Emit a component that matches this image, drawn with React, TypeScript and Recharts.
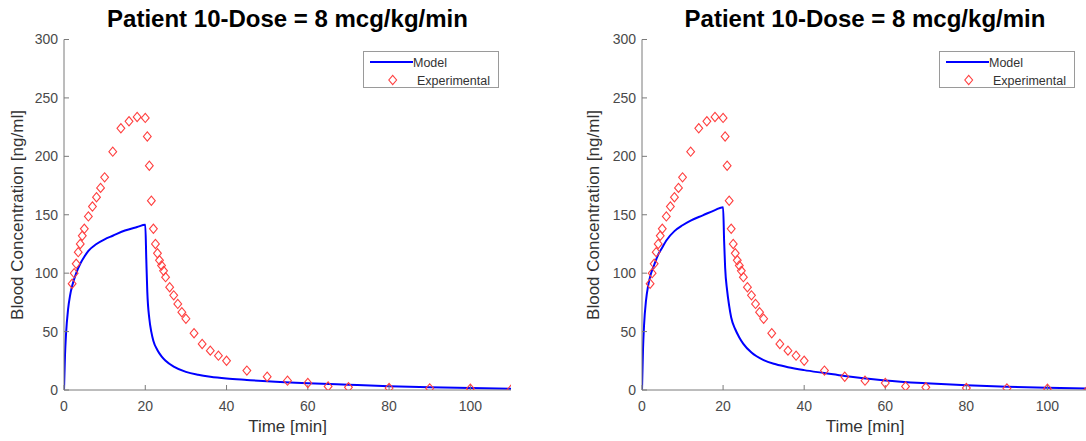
import React from "react";
import { ComposedChart, Line, Scatter, XAxis, YAxis, Legend } from "recharts";

// experimental samples (same in both panels)
const expTime = [2, 2.5, 3, 3.5, 4, 4.5, 5, 6, 7, 8, 9, 10, 12, 14, 16, 18, 20, 20.5, 21, 21.5, 22, 22.5, 23, 23.5, 24, 24.5, 25, 26, 27, 28, 29, 30, 32, 34, 36, 38, 40, 45, 50, 55, 60, 65, 70, 80, 90, 100, 110];
const expConc = [91, 100, 108, 118, 125, 132, 138, 148.6, 157, 165, 173, 182, 204, 224, 230, 233.7, 232.9, 217, 192, 162, 138, 125, 117, 111, 106.6, 102, 96.6, 88, 81, 73.7, 66.6, 61, 48.6, 39.4, 33.7, 29.4, 25, 16.6, 11.4, 8, 6, 3.1, 2.3, 1.7, 1.4, 1.1, 0.3];

// model curves
const modelTime = [0, 0.25, 0.5, 1, 1.5, 2, 3, 4, 5, 6, 8, 10, 12, 15, 18, 20, 20.25, 20.5, 21, 21.5, 22, 23, 24, 25, 27, 30, 33, 36, 40, 45, 50, 60, 70, 80, 90, 100, 110];
const modelLeft = [0, 30, 48, 69, 81, 89, 100, 108, 114, 119, 125, 129, 132, 136.5, 139.5, 141.4, 112, 84, 61, 49.5, 42, 34, 28.8, 25, 20, 15.5, 13, 11.3, 9.8, 8.6, 7.5, 5.8, 4.5, 3.3, 2.4, 1.7, 1.1];
const modelRight = [0, 35, 55, 77, 89, 97, 107, 116, 122, 128, 136, 141, 145, 149.5, 154, 156.5, 128, 105, 85, 72, 62, 52, 45, 39.5, 32, 25.5, 22, 19.5, 17, 14.5, 12, 8.2, 5.8, 4, 2.8, 1.9, 1.3];

const xTicks = [0, 20, 40, 60, 80, 100];
const yTicks = [0, 50, 100, 150, 200, 250, 300];

const FONT = '"Liberation Sans", Arial, Helvetica, sans-serif';
const expData = expTime.map((t, i) => ({ t, c: expConc[i] }));

const Diamond = (p: any) => {
  const { cx, cy } = p;
  if (cx == null || cy == null) return null;
  return (
    <polygon
      points={`${cx},${cy - 4.6} ${cx + 3.9},${cy} ${cx},${cy + 4.6} ${cx - 3.9},${cy}`}
      fill="none"
      stroke="#ff4040"
      strokeWidth={1.1}
    />
  );
};

const LegendBox = () => (
  <svg width={136} height={37} style={{ display: "block" }}>
    <rect x={0.5} y={0.5} width={135} height={36} fill="#fff" stroke="#9a9a9a" />
    <line x1={7} y1={11} x2={50} y2={11} stroke="#0000ff" strokeWidth={2} />
    <text x={50} y={15.5} fontSize={12.5} fill="#333" fontFamily={FONT}>Model</text>
    <polygon points="29.7,24.4 33.6,29 29.7,33.6 25.8,29" fill="none" stroke="#ff4040" strokeWidth={1.1} />
    <text x={54} y={33.5} fontSize={12.5} fill="#333" fontFamily={FONT}>Experimental</text>
  </svg>
);

interface PanelProps {
  left: number;
  width: number;
  marginLeft: number;
  marginRight: number;
  model: number[];
  legendLeft: number;
  yLabelX: number;
}

function Panel({ left, width, marginLeft, marginRight, model, legendLeft, yLabelX }: PanelProps) {
  const modelData = modelTime.map((t, i) => ({ t, c: model[i] }));
  const plotLeft = marginLeft + 44;
  const plotRight = width - marginRight;
  const cx = (plotLeft + plotRight) / 2;
  return (
    <div style={{ position: "absolute", left, top: 0, width, height: 441, fontFamily: FONT }}>
      <div
        style={{
          position: "absolute", left: cx - 300, width: 600, top: 5, textAlign: "center",
          fontSize: 24, lineHeight: "28px", fontWeight: "bold", color: "#000",
        }}
      >
        Patient 10-Dose = 8 mcg/kg/min
      </div>
      <div
        style={{
          position: "absolute", left: cx - 150, width: 300, top: 417, textAlign: "center",
          fontSize: 17, lineHeight: "20px", color: "#333",
        }}
      >
        Time [min]
      </div>
      <div
        style={{
          position: "absolute", left: yLabelX - 200, width: 400, top: 214.75 - 10, height: 20,
          textAlign: "center", fontSize: 17, lineHeight: "20px", color: "#333",
          transform: "rotate(-90deg)",
        }}
      >
        Blood Concentration [ng/ml]
      </div>
      <ComposedChart
        width={width}
        height={441}
        margin={{ top: 39.5, right: marginRight, bottom: 21, left: marginLeft }}
      >
        <XAxis
          dataKey="t"
          type="number"
          domain={[0, 110]}
          ticks={xTicks}
          allowDataOverflow
          height={30}
          tickSize={-5}
          tickMargin={16}
          stroke="#7a7a7a"
          tick={{ fill: "#4a4a4a", fontSize: 14, fontFamily: FONT }}
        />
        <YAxis
          type="number"
          domain={[0, 300]}
          ticks={yTicks}
          allowDataOverflow
          width={44}
          tickSize={-5}
          tickMargin={11}
          stroke="#7a7a7a"
          tick={{ fill: "#4a4a4a", fontSize: 14, fontFamily: FONT }}
        />
        <Legend
          layout="vertical"
          align="center"
          verticalAlign="middle"
          wrapperStyle={{ left: legendLeft, top: 51, width: 136, height: 37 }}
          content={() => <LegendBox />}
        />
        <Line
          data={modelData}
          dataKey="c"
          type="monotone"
          stroke="#0000ff"
          strokeWidth={2}
          dot={false}
          isAnimationActive={false}
        />
        <Scatter data={expData} dataKey="c" shape={Diamond} isAnimationActive={false} />
      </ComposedChart>
    </div>
  );
}

export default function App() {
  return (
    <div
      style={{
        position: "absolute", left: 0, top: 0, width: 1086, height: 441,
        overflow: "hidden", background: "#fff",
      }}
    >
      <Panel left={0} width={540} marginLeft={20} marginRight={29} model={modelLeft} legendLeft={363} yLabelX={18.3} />
      <Panel left={560} width={560} marginLeft={38} marginRight={32} model={modelRight} legendLeft={379} yLabelX={34.3} />
    </div>
  );
}
